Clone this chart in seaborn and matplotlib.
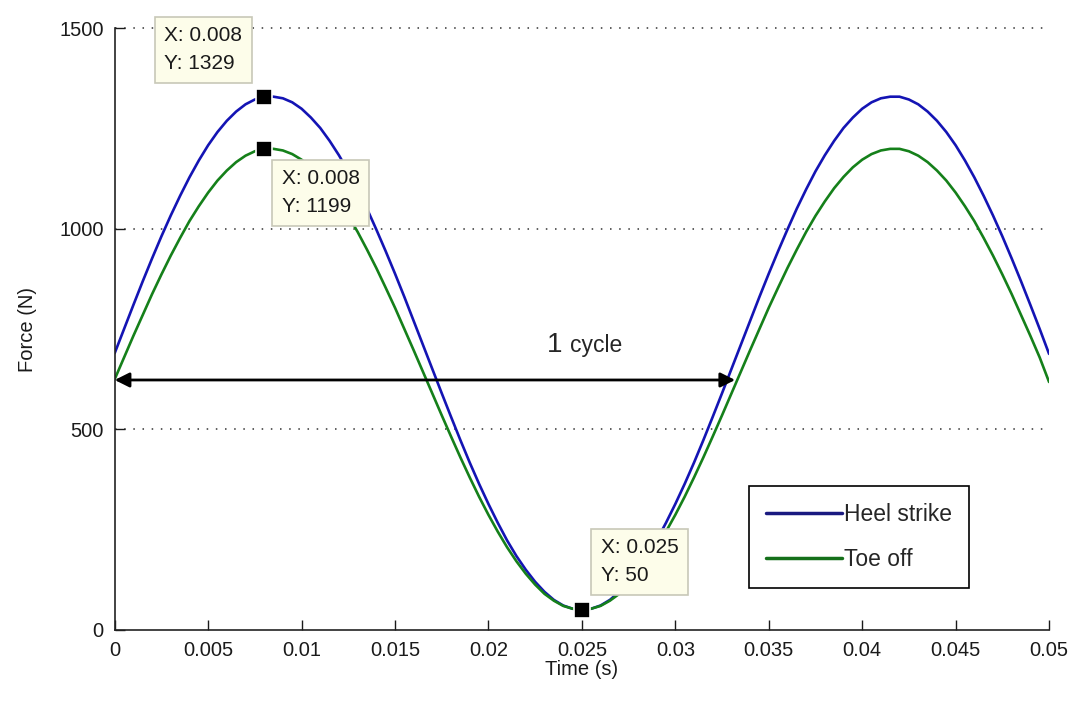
import matplotlib
matplotlib.use("Agg")
import matplotlib.pyplot as plt
import seaborn as sns
import pandas as pd

time_s = [i / 2000 for i in range(101)]
heel_strike = [690, 750, 810, 869, 926, 981, 1033, 1082, 1128, 1170,
               1208, 1241, 1269, 1292, 1310, 1322, 1329, 1329, 1325, 1315,
               1299, 1277, 1251, 1219, 1183, 1143, 1098, 1050, 998, 944,
               888, 830, 770, 710, 650, 590, 531, 473, 417, 364,
               314, 267, 223, 184, 150, 120, 95, 75, 61, 53,
               50, 53, 61, 75, 95, 120, 150, 184, 223, 267,
               314, 364, 417, 473, 531, 590, 650, 710, 770, 830,
               888, 944, 998, 1050, 1098, 1143, 1183, 1219, 1251, 1277,
               1299, 1315, 1325, 1329, 1329, 1322, 1310, 1292, 1269, 1241,
               1208, 1170, 1128, 1082, 1033, 981, 926, 869, 810, 750,
               688]
toe_off = [625, 679, 733, 785, 837, 886, 933, 977, 1019, 1056,
           1090, 1120, 1145, 1166, 1182, 1193, 1199, 1199, 1195, 1186,
           1172, 1153, 1129, 1101, 1068, 1032, 992, 948, 902, 853,
           803, 750, 697, 643, 589, 535, 482, 430, 380, 332,
           287, 245, 206, 171, 140, 113, 90, 73, 60, 53,
           50, 53, 60, 73, 90, 113, 140, 171, 206, 245,
           287, 332, 380, 430, 482, 535, 589, 643, 697, 750,
           803, 853, 902, 948, 992, 1032, 1068, 1101, 1129, 1153,
           1172, 1186, 1195, 1199, 1199, 1193, 1182, 1166, 1145, 1120,
           1090, 1056, 1019, 977, 933, 886, 837, 785, 733, 679,
           618]

# data tips: (x, y, box centre x, box centre y)
tips = [(0.008, 1329, 0.00474, 1446),
        (0.008, 1199, 0.01103, 1089),
        (0.025, 50, 0.02808, 170)]

cycle_start = 0.0
cycle_end = 0.0332
cycle_level = 623

xticks = [0, 0.005, 0.01, 0.015, 0.02, 0.025, 0.03, 0.035, 0.04, 0.045, 0.05]
xticklabels = ["0", "0.005", "0.01", "0.015", "0.02", "0.025", "0.03",
               "0.035", "0.04", "0.045", "0.05"]
yticks = [0, 500, 1000, 1500]

df = pd.DataFrame({"time": time_s * 2,
                   "force": heel_strike + toe_off,
                   "series": ["Heel strike"] * len(time_s) + ["Toe off"] * len(time_s)})

sns.set_style("ticks")
plt.rcParams["font.family"] = ["Liberation Sans", "DejaVu Sans"]

fig = plt.figure(figsize=(10.72, 7.02), dpi=100)
ax = fig.add_axes([0.107, 0.1026, 0.8716, 0.8574])

sns.lineplot(data=df, x="time", y="force", hue="series",
             palette={"Heel strike": "#1414b4", "Toe off": "#15801a"},
             linewidth=1.9, ax=ax, legend=False)

ax.set_xlim(0, 0.05)
ax.set_ylim(0, 1500)
ax.set_xticks(xticks)
ax.set_xticklabels(xticklabels)
ax.set_yticks(yticks)
ax.tick_params(direction="in", length=7, width=1, labelsize=14.5, pad=8, colors="#1a1a1a")
for side in ["top", "right"]:
    ax.spines[side].set_visible(False)
for side in ["left", "bottom"]:
    ax.spines[side].set_color("#222222")
    ax.spines[side].set_linewidth(1.2)
for yv in yticks[1:]:
    ax.axhline(yv, color="#333333", linestyle=(0, (1, 5)), linewidth=1.1, zorder=0, clip_on=False)

ax.set_xlabel("Time (s)", fontsize=14.5, labelpad=0, color="#1a1a1a")
ax.set_ylabel("Force (N)", fontsize=14.5, labelpad=16, color="#1a1a1a")

# legend
handles = [plt.Line2D([], [], color="#1a1a80", lw=2.5),
           plt.Line2D([], [], color="#15701a", lw=2.5)]
ax.legend(handles, ["Heel strike", "Toe off"], loc="lower left",
          bbox_to_anchor=(0.679, 0.07), borderaxespad=0, fontsize=16.5,
          frameon=True, fancybox=False, edgecolor="black", framealpha=1,
          handlelength=3.3, handletextpad=0.1, labelspacing=0.95,
          borderpad=0.75)
ax.get_legend().get_frame().set_linewidth(1.2)

# cycle arrow
ax.annotate("", xy=(cycle_end, cycle_level), xytext=(cycle_start, cycle_level),
            arrowprops=dict(arrowstyle="<|-|>", color="black", lw=2,
                            mutation_scale=22, shrinkA=0, shrinkB=0),
            annotation_clip=False)
ax.text(0.02313, 693, "1", fontsize=20, ha="left", va="baseline")
ax.text(0.02436, 693, "cycle", fontsize=16.5, ha="left", va="baseline")

# data tips
for x, y, bx, by in tips:
    ax.plot([x], [y], marker="s", markersize=11, color="black",
            markeredgecolor="white", markeredgewidth=1.2, zorder=5, clip_on=False)
    ax.text(bx, by, "X: %g\nY: %d" % (x, y), fontsize=15, ha="center", va="center",
            multialignment="left", linespacing=1.6, color="#1a1a1a", zorder=6,
            clip_on=False,
            bbox=dict(boxstyle="square,pad=0.45", fc="#fdfdea", ec="#c8c8b8", lw=1.2))

fig.savefig("out.png", dpi=100)
